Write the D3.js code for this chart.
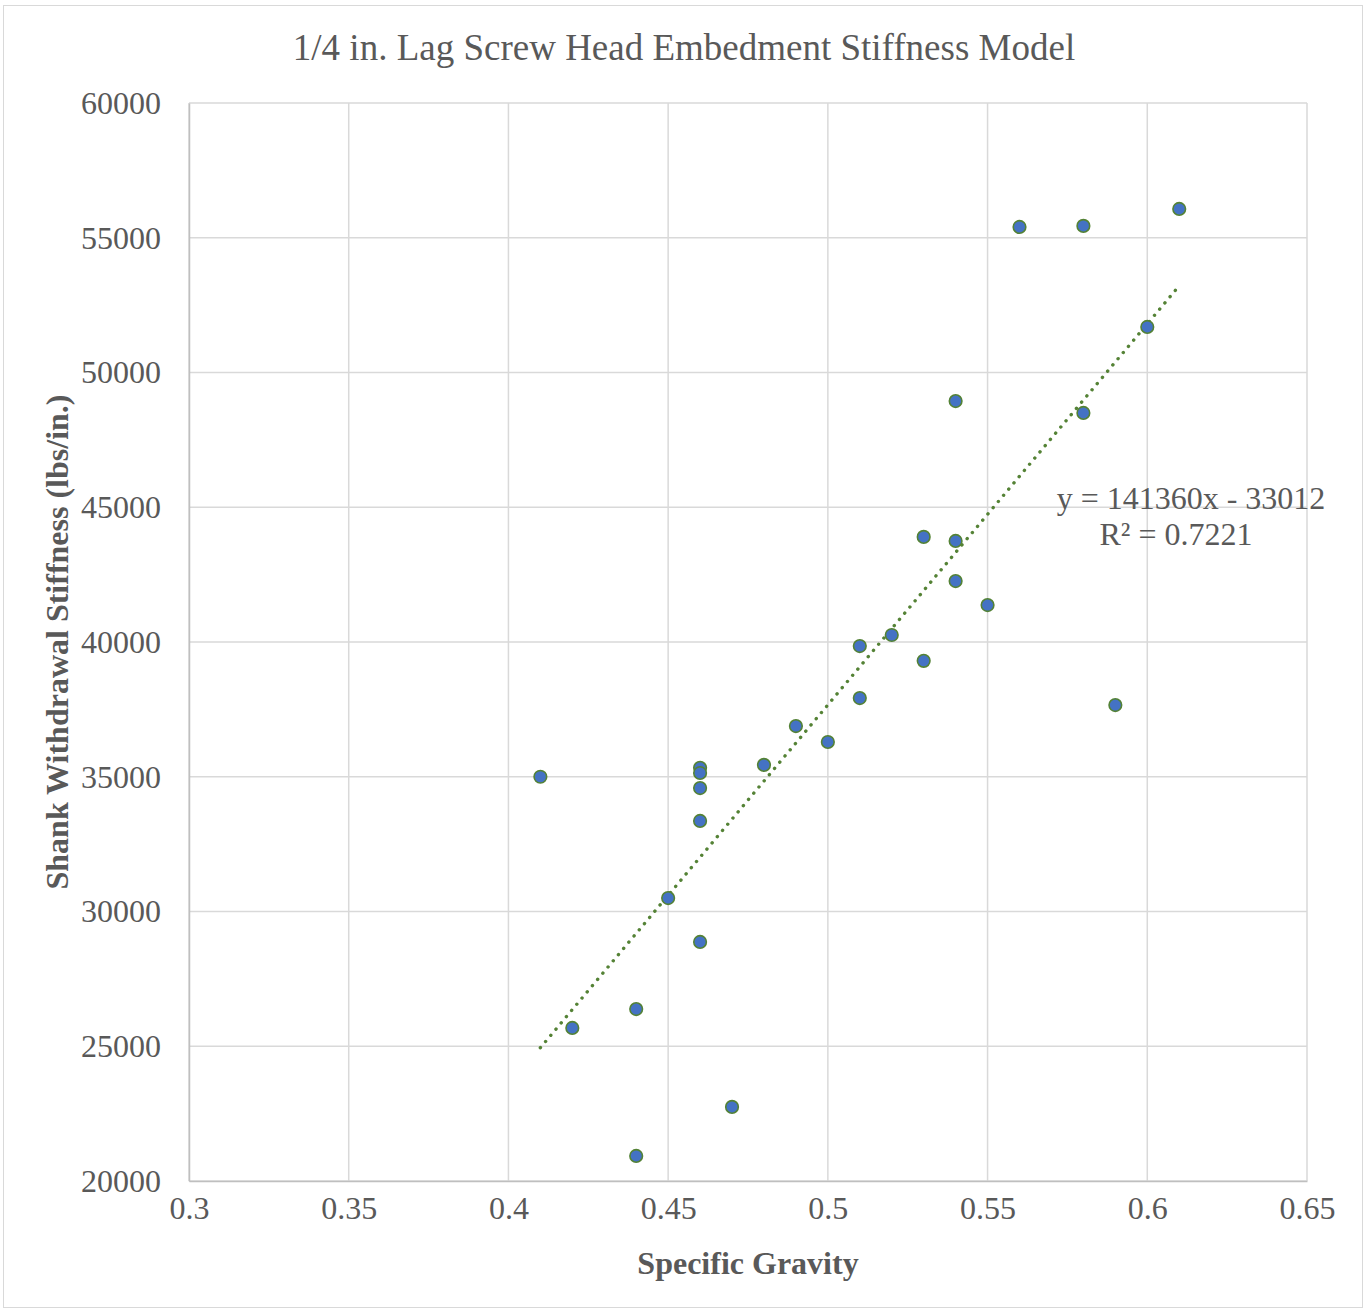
<!DOCTYPE html>
<html>
<head>
<meta charset="utf-8">
<script src="https://cdn.jsdelivr.net/npm/d3@7"></script>
<style>
  body { margin: 0; background: #fff; }
  text { font-family: "Liberation Serif", "Times New Roman", serif; fill: #595959; }
</style>
</head>
<body>
<div id="chart"></div>
<script>
// specific gravity and stiffness
var sg = [0.41, 0.42, 0.44, 0.44, 0.45, 0.46, 0.46, 0.46, 0.46, 0.46, 0.47, 0.48, 0.49, 0.5,
          0.51, 0.51, 0.52, 0.53, 0.53, 0.54, 0.54, 0.54, 0.55, 0.56, 0.58, 0.58, 0.59, 0.6, 0.61];
var stiffness = [35000, 25680, 26380, 20930, 30500, 35330, 35140, 34580, 33360, 28870, 22750, 35440, 36880, 36290,
                 39850, 37920, 40260, 43900, 39300, 48940, 43750, 42260, 41370, 55400, 55440, 48500, 37660, 51690, 56070];
var xTicks = [0.3, 0.35, 0.4, 0.45, 0.5, 0.55, 0.6, 0.65];
var yTicks = [20000, 25000, 30000, 35000, 40000, 45000, 50000, 55000, 60000];
var slope = 141360, intercept = -33012;
var trendRange = [0.41, 0.61];

var width = 1366, height = 1310;
var margin = {left: 189, right: 59, top: 103, bottom: 129};

var svg = d3.select('#chart').append('svg')
  .attr('width', width)
  .attr('height', height);

svg.append('rect')
  .attr('x', 3.5).attr('y', 5.5)
  .attr('width', 1359).attr('height', 1302)
  .attr('fill', '#fff')
  .attr('stroke', '#d9d9d9');

var x = d3.scaleLinear().domain([0.3, 0.65]).range([margin.left, width - margin.right]);
var y = d3.scaleLinear().domain([20000, 60000]).range([height - margin.bottom, margin.top]);

// gridlines
svg.append('g').selectAll('line').data(yTicks).join('line')
  .attr('x1', x(0.3)).attr('x2', x(0.65))
  .attr('y1', d => y(d)).attr('y2', d => y(d))
  .attr('stroke', '#d9d9d9').attr('stroke-width', 1.5);
svg.append('g').selectAll('line').data(xTicks).join('line')
  .attr('x1', d => x(d)).attr('x2', d => x(d))
  .attr('y1', y(20000)).attr('y2', y(60000))
  .attr('stroke', '#d9d9d9').attr('stroke-width', 1.5);

// axes
var xAxis = d3.axisBottom(x).tickValues(xTicks).tickSize(0).tickPadding(15).tickFormat(d => String(d));
var gx = svg.append('g').attr('transform', 'translate(0,' + y(20000) + ')').call(xAxis);
gx.select('.domain').attr('stroke', '#bfbfbf').attr('stroke-width', 1.5);
gx.selectAll('text').attr('font-size', 32).attr('fill', '#595959');

var yAxis = d3.axisLeft(y).tickValues(yTicks).tickSize(0).tickPadding(28).tickFormat(d => String(d));
var gy = svg.append('g').attr('transform', 'translate(' + x(0.3) + ',0)').call(yAxis);
gy.select('.domain').attr('stroke', '#bfbfbf').attr('stroke-width', 1.5);
gy.selectAll('text').attr('font-size', 32).attr('fill', '#595959');

// trendline
svg.append('line')
  .attr('x1', x(trendRange[0])).attr('y1', y(slope * trendRange[0] + intercept))
  .attr('x2', x(trendRange[1])).attr('y2', y(slope * trendRange[1] + intercept))
  .attr('stroke', '#548235').attr('stroke-width', 3.4)
  .attr('stroke-linecap', 'round').attr('stroke-dasharray', '0.1 8');

// points
svg.append('g').selectAll('circle').data(sg).join('circle')
  .attr('cx', d => x(d))
  .attr('cy', (d, i) => y(stiffness[i]))
  .attr('r', 6.3)
  .attr('fill', '#4472c4')
  .attr('stroke', '#548235').attr('stroke-width', 1.6);

// title
svg.append('text')
  .attr('x', 684).attr('y', 60)
  .attr('text-anchor', 'middle').attr('font-size', 37)
  .text('1/4 in. Lag Screw Head Embedment Stiffness Model');

// axis titles
svg.append('text')
  .attr('x', 748).attr('y', 1274)
  .attr('text-anchor', 'middle').attr('font-size', 32).attr('font-weight', 'bold')
  .text('Specific Gravity');
svg.append('text')
  .attr('transform', 'translate(68,642) rotate(-90)')
  .attr('text-anchor', 'middle').attr('font-size', 32).attr('font-weight', 'bold')
  .text('Shank Withdrawal Stiffness (lbs/in.)');

// equation label
var eq = svg.append('text').attr('text-anchor', 'middle').attr('font-size', 32);
eq.append('tspan').attr('x', 1191).attr('y', 509).text('y = ' + slope + 'x - ' + Math.abs(intercept));
eq.append('tspan').attr('x', 1176).attr('y', 545).text('R² = 0.7221');
</script>
</body>
</html>
